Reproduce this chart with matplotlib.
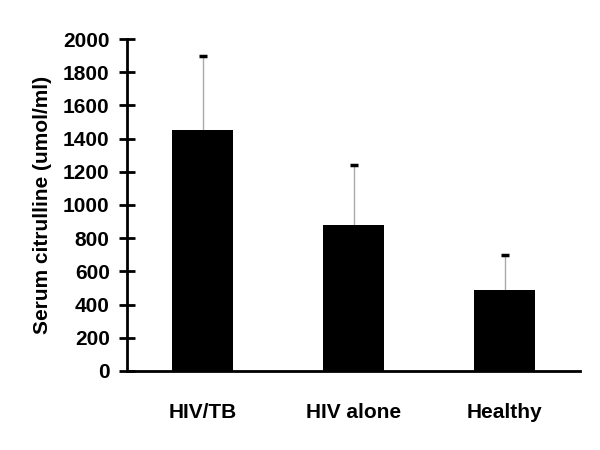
import numpy as np
import matplotlib
matplotlib.use("Agg")
import matplotlib.pyplot as plt

plt.rcParams['font.family'] = ['Liberation Sans', 'DejaVu Sans']
plt.rcParams['font.weight'] = 'bold'

groups = ['HIV/TB', 'HIV alone', 'Healthy']
means = [1450, 880, 485]
errors = [450, 360, 215]
yticks = list(range(0, 2001, 200))

fig = plt.figure(figsize=(6, 4.5), dpi=100)
ax = fig.add_axes([0.2117, 0.1756, 0.7553, 0.7377])

x = np.arange(len(groups))
ax.bar(x, means, width=0.4, color='black', zorder=2)
# grey whisker only above the bar, black cap at the top
ax.errorbar(x, means, yerr=[np.zeros(len(x)), errors], fmt='none',
            ecolor='#aaaaaa', elinewidth=1, capsize=0, zorder=1)
ax.plot(x, np.array(means) + np.array(errors), linestyle='none', marker='_',
        markersize=6, markeredgewidth=2.5, color='black', zorder=3)

ax.set_xlim(-0.5, 2.5)
ax.set_ylim(0, 2000)
ax.set_yticks(yticks)
ax.set_xticks(x)
ax.set_xticklabels(groups, fontsize=15, fontweight='bold')
ax.tick_params(axis='x', length=0, pad=23)
ax.tick_params(axis='y', direction='inout', length=11, width=2, labelsize=15, pad=7)
for lab in ax.get_yticklabels():
    lab.set_fontweight('bold')

ax.spines['top'].set_visible(False)
ax.spines['right'].set_visible(False)
ax.spines['left'].set_linewidth(2)
ax.spines['bottom'].set_linewidth(2)

ax.set_ylabel('Serum citrulline (umol/ml)', fontsize=15, fontweight='bold', labelpad=8)

fig.savefig('out.png', dpi=100)
